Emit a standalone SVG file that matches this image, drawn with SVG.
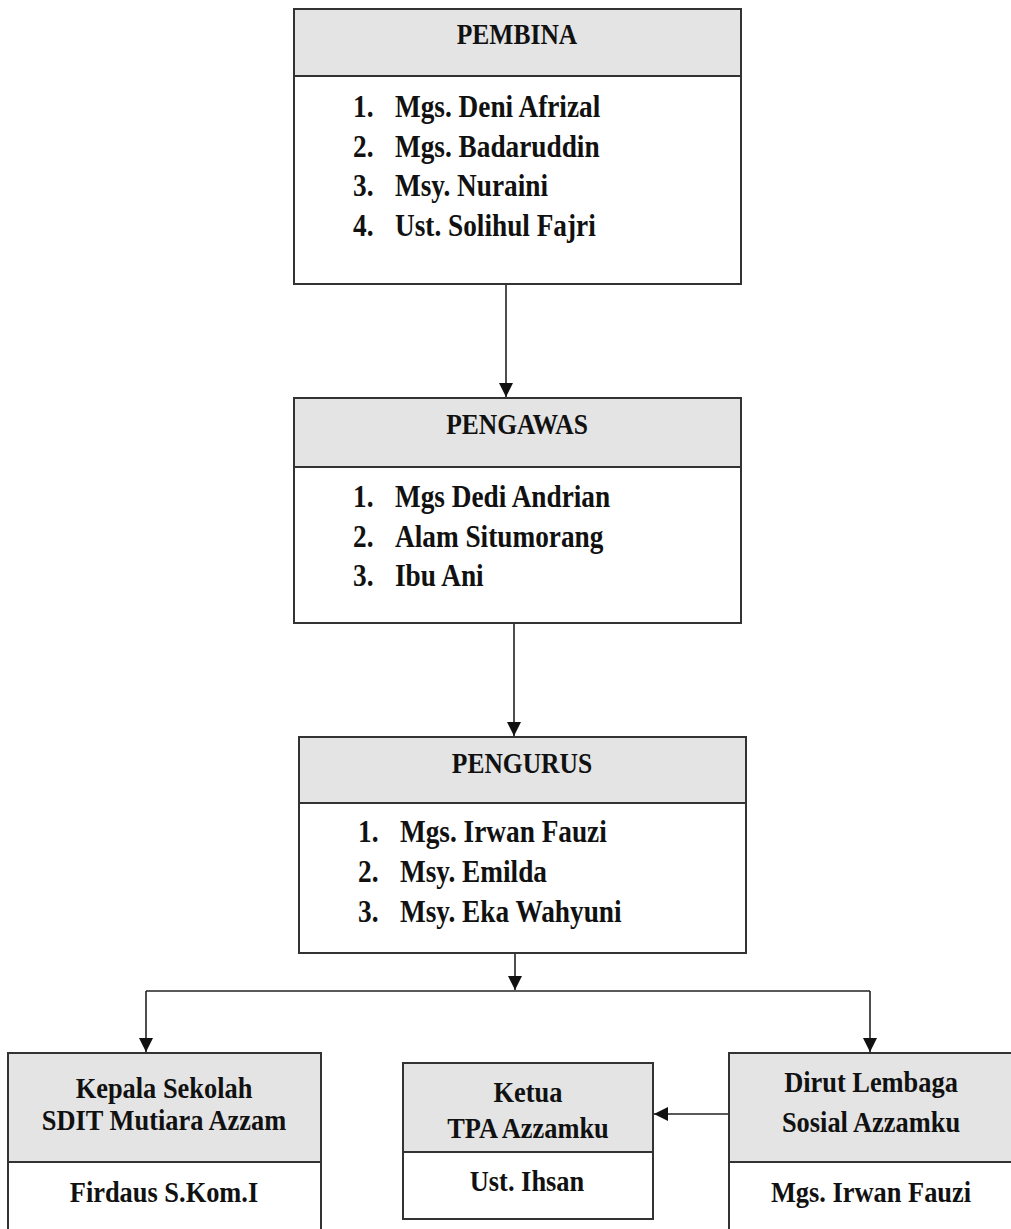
<svg xmlns="http://www.w3.org/2000/svg" width="1011" height="1229" viewBox="0 0 1011 1229">
  <style>
    .box { fill: #ffffff; stroke: #333333; stroke-width: 2; }
    .head { fill: #e4e4e4; stroke: #333333; stroke-width: 2; }
    text { font-family: 'Liberation Serif', 'DejaVu Serif', serif; font-weight: 700; fill: #111111; }
    .h { font-size: 29px; text-anchor: middle; }
    .i { font-size: 31px; }
    .c { font-size: 30px; text-anchor: middle; }
    .link { fill: none; stroke: #222222; stroke-width: 1.6; }
  </style>
  <defs>
    <marker id="arrow" markerUnits="userSpaceOnUse" markerWidth="14" markerHeight="16" viewBox="0 0 14 16" refX="14" refY="8" orient="auto">
      <path d="M0,1 L14,8 L0,15 Z" fill="#111111"/>
    </marker>
  </defs>

  <rect width="1011" height="1229" fill="#ffffff"/>

  <!-- connectors -->
  <g id="connectors">
    <line class="link" x1="506" y1="284" x2="506" y2="397" marker-end="url(#arrow)"/>
    <line class="link" x1="514" y1="623" x2="514" y2="736" marker-end="url(#arrow)"/>
    <line class="link" x1="515" y1="953" x2="515" y2="990" marker-end="url(#arrow)"/>
    <line class="link" x1="146" y1="991" x2="870" y2="991"/>
    <line class="link" x1="146" y1="991" x2="146" y2="1052" marker-end="url(#arrow)"/>
    <line class="link" x1="870" y1="991" x2="870" y2="1052" marker-end="url(#arrow)"/>
    <line class="link" x1="729" y1="1114" x2="654" y2="1114" marker-end="url(#arrow)"/>
  </g>

  <!-- PEMBINA -->
  <g id="pembina">
    <rect class="box" x="294" y="9" width="447" height="275"/>
    <rect class="head" x="294" y="9" width="447" height="67"/>
    <text class="h" transform="translate(517,44) scale(0.88,1)">PEMBINA</text>
    <text class="i" transform="translate(353,117) scale(0.88,1)">1.</text>
    <text class="i" transform="translate(395,117) scale(0.88,1)">Mgs. Deni Afrizal</text>
    <text class="i" transform="translate(353,157) scale(0.88,1)">2.</text>
    <text class="i" transform="translate(395,157) scale(0.88,1)">Mgs. Badaruddin</text>
    <text class="i" transform="translate(353,196) scale(0.88,1)">3.</text>
    <text class="i" transform="translate(395,196) scale(0.88,1)">Msy. Nuraini</text>
    <text class="i" transform="translate(353,236) scale(0.88,1)">4.</text>
    <text class="i" transform="translate(395,236) scale(0.88,1)">Ust. Solihul Fajri</text>
  </g>

  <!-- PENGAWAS -->
  <g id="pengawas">
    <rect class="box" x="294" y="398" width="447" height="225"/>
    <rect class="head" x="294" y="398" width="447" height="69"/>
    <text class="h" transform="translate(517,434) scale(0.88,1)">PENGAWAS</text>
    <text class="i" transform="translate(353,507) scale(0.88,1)">1.</text>
    <text class="i" transform="translate(395,507) scale(0.88,1)">Mgs Dedi Andrian</text>
    <text class="i" transform="translate(353,547) scale(0.88,1)">2.</text>
    <text class="i" transform="translate(395,547) scale(0.88,1)">Alam Situmorang</text>
    <text class="i" transform="translate(353,586) scale(0.88,1)">3.</text>
    <text class="i" transform="translate(395,586) scale(0.88,1)">Ibu Ani</text>
  </g>

  <!-- PENGURUS -->
  <g id="pengurus">
    <rect class="box" x="299" y="737" width="447" height="216"/>
    <rect class="head" x="299" y="737" width="447" height="66"/>
    <text class="h" transform="translate(522,773) scale(0.88,1)">PENGURUS</text>
    <text class="i" transform="translate(358,842) scale(0.88,1)">1.</text>
    <text class="i" transform="translate(400,842) scale(0.88,1)">Mgs. Irwan Fauzi</text>
    <text class="i" transform="translate(358,882) scale(0.88,1)">2.</text>
    <text class="i" transform="translate(400,882) scale(0.88,1)">Msy. Emilda</text>
    <text class="i" transform="translate(358,922) scale(0.88,1)">3.</text>
    <text class="i" transform="translate(400,922) scale(0.88,1)">Msy. Eka Wahyuni</text>
  </g>

  <!-- Kepala Sekolah -->
  <g id="kepala-sekolah">
    <rect class="box" x="8" y="1053" width="313" height="190"/>
    <rect class="head" x="8" y="1053" width="313" height="109"/>
    <text class="c" transform="translate(164,1098) scale(0.88,1)">Kepala Sekolah</text>
    <text class="c" transform="translate(164,1130) scale(0.88,1)">SDIT Mutiara Azzam</text>
    <text class="c" transform="translate(164,1202) scale(0.88,1)">Firdaus S.Kom.I</text>
  </g>

  <!-- Ketua TPA -->
  <g id="ketua-tpa">
    <rect class="box" x="403" y="1063" width="250" height="156"/>
    <rect class="head" x="403" y="1063" width="250" height="89"/>
    <text class="c" transform="translate(528,1102) scale(0.88,1)">Ketua</text>
    <text class="c" transform="translate(528,1138) scale(0.88,1)">TPA Azzamku</text>
    <text class="c" transform="translate(527,1191) scale(0.88,1)">Ust. Ihsan</text>
  </g>

  <!-- Dirut Lembaga Sosial -->
  <g id="dirut-lembaga">
    <rect class="box" x="729" y="1053" width="300" height="190"/>
    <rect class="head" x="729" y="1053" width="300" height="109"/>
    <text class="c" transform="translate(871,1092) scale(0.88,1)">Dirut Lembaga</text>
    <text class="c" transform="translate(871,1132) scale(0.88,1)">Sosial Azzamku</text>
    <text class="c" transform="translate(871,1202) scale(0.88,1)">Mgs. Irwan Fauzi</text>
  </g>
</svg>
